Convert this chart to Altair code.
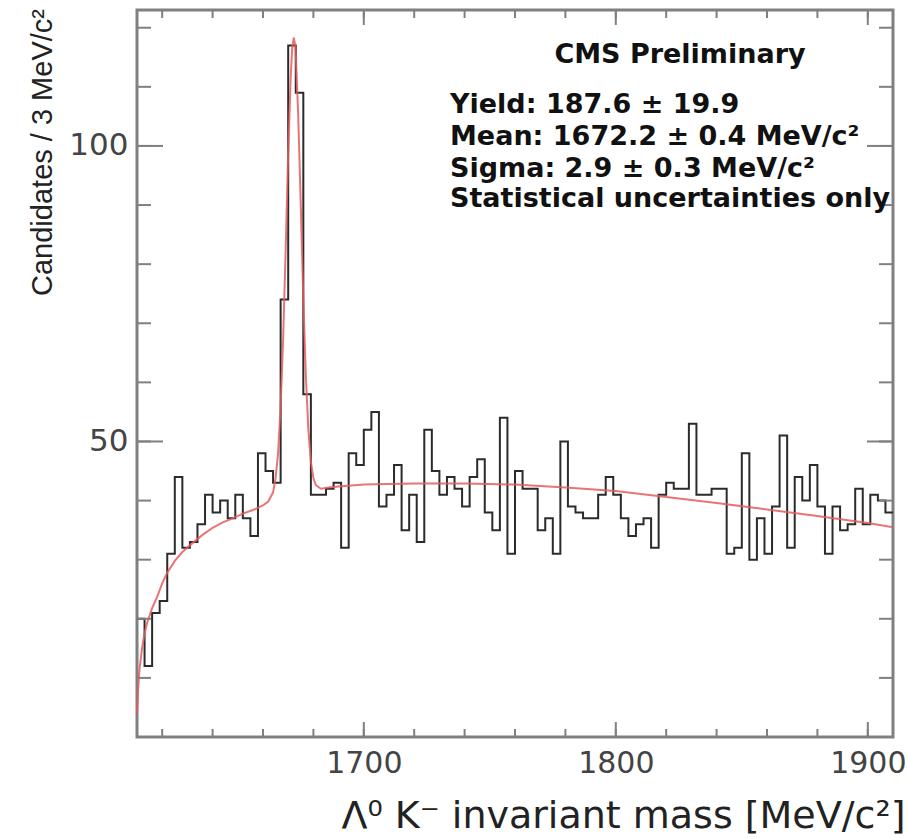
import altair as alt
import pandas as pd

# ---------------- data ----------------
X_MIN, X_MAX = 1610, 1910
BIN_WIDTH = 3
Y_MIN, Y_MAX = 0, 123

counts = [20, 12, 21, 23, 31, 44, 32, 33, 36, 41,
          38, 40, 37, 41, 37, 34, 48, 45, 43, 74,
          117, 109, 58, 41, 41, 42, 43, 32, 48, 46,
          52, 55, 39, 41, 46, 35, 41, 33, 52, 45,
          41, 44, 42, 39, 44, 47, 38, 35, 54, 31,
          45, 42, 42, 35, 37, 31, 50, 39, 38, 37,
          37, 41, 44, 41, 37, 34, 36, 37, 32, 41,
          43, 42, 42, 53, 41, 41, 42, 42, 31, 32,
          48, 30, 37, 31, 39, 51, 32, 44, 40, 46,
          39, 31, 39, 35, 36, 42, 36, 41, 40, 38]

fit_mass = [1610, 1610.5, 1611, 1612, 1613, 1614, 1616, 1618, 1620, 1622,
            1625, 1628, 1632, 1636, 1640, 1644, 1648, 1652, 1656, 1660,
            1662, 1664, 1665, 1666, 1667, 1668, 1669, 1670, 1671, 1671.6,
            1672.2, 1672.8, 1673, 1674, 1675, 1676, 1677, 1678, 1679, 1680,
            1681, 1683, 1686, 1690, 1700, 1720, 1740, 1760, 1780, 1800,
            1820, 1840, 1860, 1880, 1900, 1910]
fit_value = [4, 8.5, 11.5, 15, 17.5, 19.3, 21.8, 23.7, 26, 27.8,
             29.8, 31.3, 32.8, 34.2, 35.4, 36.3, 37, 37.8, 38.4, 39.2,
             39.8, 41.4, 43.8, 48.1, 56, 67.5, 82.6, 98.7, 111.8, 116.7,
             118.3, 117, 115.5, 104.9, 89.8, 74.1, 61.1, 52, 46.6, 43.8,
             42.6, 42, 42.2, 42.4, 42.7, 42.9, 42.9, 42.7, 42.2, 41.6,
             40.6, 39.6, 38.5, 37.4, 36.2, 35.5]

x_minor_ticks = [1620, 1640, 1660, 1680, 1700, 1720, 1740, 1760, 1780,
                 1800, 1820, 1840, 1860, 1880, 1900]
x_major_ticks = [1700, 1800, 1900]
y_minor_ticks = [10, 20, 30, 40, 50, 60, 70, 80, 90, 100, 110, 120]
y_major_ticks = [50, 100]

x_title = "\u039b\u2070 K\u207b invariant mass [MeV/c\u00b2]"
y_title = "Candidates / 3 MeV/c\u00b2"
cms_label = "CMS Preliminary"
stats_lines = ["Yield: 187.6 \u00b1 19.9",
               "Mean: 1672.2 \u00b1 0.4 MeV/c\u00b2",
               "Sigma: 2.9 \u00b1 0.3 MeV/c\u00b2",
               "Statistical uncertainties only"]

# ---------------- tables ----------------
edges = [X_MIN + BIN_WIDTH * i for i in range(len(counts))] + [X_MAX]
hist_df = pd.DataFrame({"mass": edges, "count": counts + [counts[-1]]})
fit_df = pd.DataFrame({"mass": fit_mass, "count": fit_value})
xminor_df = pd.DataFrame({"mass": x_minor_ticks})
xmajor_df = pd.DataFrame({"mass": x_major_ticks})
yminor_df = pd.DataFrame({"count": y_minor_ticks})
ymajor_df = pd.DataFrame({"count": y_major_ticks})

W, H = 756, 727
FRAME = "#808080"
xs = alt.Scale(domain=[X_MIN, X_MAX], nice=False, zero=False)
ys = alt.Scale(domain=[Y_MIN, Y_MAX], nice=False, zero=False)

x_axis = alt.Axis(
    values=x_major_ticks, format="d", domain=False, ticks=False, grid=False,
    labelFont="DejaVu Sans", labelFontSize=30, labelColor="#444444",
    labelPadding=11, labelFlush=False, title=x_title, titleFont="DejaVu Sans",
    titleFontSize=38, titleFontWeight="normal", titleColor="#222222",
    titleX=768, titleY=90, titleAlign="right", titleBaseline="alphabetic")
y_axis = alt.Axis(
    values=y_major_ticks, format="d", domain=False, ticks=False, grid=False,
    labelFont="DejaVu Sans", labelFontSize=31, labelColor="#444444",
    labelPadding=9, labelFlush=False, title=y_title,
    titleFont="Liberation Sans", titleFontSize=29,
    titleFontWeight="normal", titleColor="#222222",
    titleAngle=270, titleX=-95, titleY=142, titleAlign="center",
    titleBaseline="middle")

X = alt.X("mass:Q", scale=xs, axis=x_axis)
Y = alt.Y("count:Q", scale=ys, axis=y_axis)

hist = alt.Chart(hist_df).mark_line(
    interpolate="step-after", color="#2b2b2b", strokeWidth=2
).encode(x=X, y=Y)

fit = alt.Chart(fit_df).mark_line(
    color="#e45c5c", strokeWidth=2, opacity=0.85
).encode(x=X, y=Y)


def xticks(df, y0, y1):
    return alt.Chart(df).mark_rule(color=FRAME, strokeWidth=2).encode(
        x=X, y=alt.value(y0), y2=alt.value(y1))


def yticks(df, x0, x1):
    return alt.Chart(df).mark_rule(color=FRAME, strokeWidth=2).encode(
        y=Y, x=alt.value(x0), x2=alt.value(x1))


ticks = [
    xticks(xminor_df, H, H - 8), xticks(xmajor_df, H, H - 15),
    xticks(xminor_df, 0, 8), xticks(xmajor_df, 0, 15),
    yticks(yminor_df, 0, 14), yticks(ymajor_df, 0, 26),
    yticks(yminor_df, W, W - 14), yticks(ymajor_df, W, W - 26),
]


def label(text, x, y, align="left"):
    return alt.Chart(pd.DataFrame({"t": [text]})).mark_text(
        font="DejaVu Sans", fontWeight="bold", fontSize=27, color="#111111",
        align=align, baseline="alphabetic"
    ).encode(text="t:N", x=alt.value(x), y=alt.value(y))


texts = [label(cms_label, 543, 53, "center")]
for i, line in enumerate(stats_lines):
    texts.append(label(line, 313, [103, 135, 167, 197][i]))

chart = alt.layer(hist, fit, *ticks, *texts).properties(
    width=W, height=H,
    autosize=alt.AutoSizeParams(type="none"),
    padding={"left": 137, "top": 10, "right": 15, "bottom": 102},
    background="white",
).configure_view(stroke=FRAME, strokeWidth=3)

chart.save("out.html", embed_options={"renderer": "svg", "actions": False})
